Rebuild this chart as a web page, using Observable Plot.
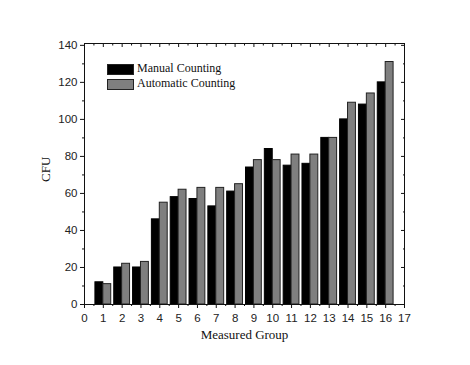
<!DOCTYPE html>
<html>
<head>
<meta charset="utf-8">
<script src="https://cdn.jsdelivr.net/npm/d3@7"></script>
<script src="https://cdn.jsdelivr.net/npm/@observablehq/plot@0.6"></script>
<style>
  html, body { margin: 0; padding: 0; background: #fff; }
  #wrap { position: relative; width: 470px; height: 365px; }
  .leg { position: absolute; font-family: "Liberation Serif", "Times New Roman", serif; font-size: 12px; color: #111; white-space: nowrap; }
  .sw { position: absolute; width: 25px; height: 9px; border: 1px solid #222; }
</style>
</head>
<body>
<div id="wrap"></div>
<script>
// ---- data ----
const groups    = [1, 2, 3, 4, 5, 6, 7, 8, 9, 10, 11, 12, 13, 14, 15, 16];
const manual    = [12, 20, 20, 46, 58, 57, 53, 61, 74, 84, 75, 76, 90, 100, 108, 120];
const automatic = [11, 22, 23, 55, 62, 63, 63, 65, 78, 78, 81, 81, 90, 109, 114, 131];
const seriesNames = ["Manual Counting", "Automatic Counting"];
const seriesColors = ["#000000", "#7f7f7f"];
const xTicks = [0, 1, 2, 3, 4, 5, 6, 7, 8, 9, 10, 11, 12, 13, 14, 15, 16, 17];
const xMinorTicks = [0.5, 1.5, 2.5, 3.5, 4.5, 5.5, 6.5, 7.5, 8.5, 9.5, 10.5, 11.5, 12.5, 13.5, 14.5, 15.5, 16.5];
const yTicks = [0, 20, 40, 60, 80, 100, 120, 140];
const yMinorTicks = [10, 30, 50, 70, 90, 110, 130];

const barW = 0.42;
const manualRows = groups.map((g, i) => ({group: g, value: manual[i]}));
const autoRows = groups.map((g, i) => ({group: g, value: automatic[i]}));

const sans = "'Liberation Sans', Arial, sans-serif";
const serif = "'Liberation Serif', 'Times New Roman', serif";
const tickFont = {fontFamily: sans, fontSize: 11.5, fill: "#222"};

const chart = Plot.plot({
  width: 470,
  height: 365,
  marginLeft: 84,
  marginRight: 66,
  marginTop: 43,
  marginBottom: 61,
  style: {background: "#fff", color: "#111"},
  x: {domain: [0, 17]},
  y: {domain: [0, 141]},
  marks: [
    Plot.rectY(manualRows, {x1: d => d.group - barW, x2: d => d.group, y: "value", fill: seriesColors[0], stroke: "#000", strokeWidth: 1}),
    Plot.rectY(autoRows, {x1: d => d.group, x2: d => d.group + barW, y: "value", fill: seriesColors[1], stroke: "#222", strokeWidth: 1}),
    Plot.frame({stroke: "#111", strokeWidth: 1}),
    // left / bottom outward ticks
    Plot.axisY(yTicks, {anchor: "left", tickSize: 4, tickPadding: 3, label: null, ...tickFont}),
    Plot.axisY(yMinorTicks, {anchor: "left", tickSize: 2, tickFormat: () => "", label: null}),
    Plot.axisX(xTicks, {anchor: "bottom", tickSize: 4, tickPadding: 5, label: null, ...tickFont}),
    Plot.axisX(xMinorTicks, {anchor: "bottom", tickSize: 2, tickFormat: () => "", label: null}),
    // right / top inward ticks
    Plot.axisY(yTicks, {anchor: "right", tickSize: -4, tickFormat: () => "", label: null}),
    Plot.axisY(yMinorTicks, {anchor: "right", tickSize: -2, tickFormat: () => "", label: null}),
    Plot.axisX(xTicks, {anchor: "top", tickSize: -3, tickFormat: () => "", label: null}),
    Plot.axisX(xMinorTicks, {anchor: "top", tickSize: -1.5, tickFormat: () => "", label: null}),
    // axis titles
    Plot.text(["Measured Group"], {frameAnchor: "bottom", dy: 34, text: d => d, fontFamily: serif, fontSize: 13, fill: "#111"}),
    Plot.text(["CFU"], {frameAnchor: "left", dx: -39, dy: 8, rotate: -90, text: d => d, fontFamily: serif, fontSize: 13, fill: "#111"})
  ]
});

const wrap = document.getElementById("wrap");
wrap.appendChild(chart);

// legend overlay
seriesNames.forEach((name, i) => {
  const sw = document.createElement("div");
  sw.className = "sw";
  sw.style.left = "107px";
  sw.style.top = (64 + i * 15.3) + "px";
  sw.style.background = seriesColors[i];
  wrap.appendChild(sw);
  const t = document.createElement("div");
  t.className = "leg";
  t.style.left = "137px";
  t.style.top = (61 + i * 15.3) + "px";
  t.textContent = name;
  wrap.appendChild(t);
});
</script>
</body>
</html>
